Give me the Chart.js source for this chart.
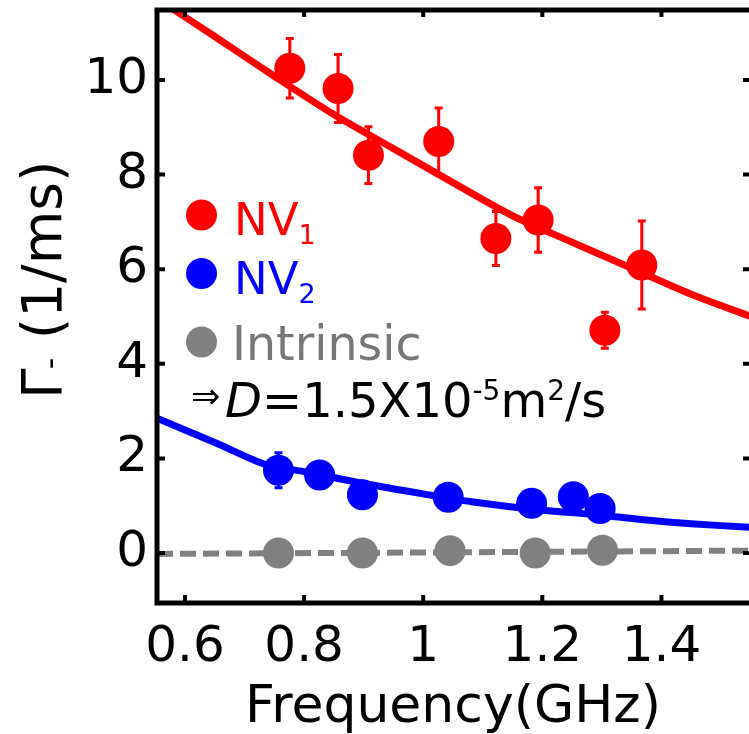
<!DOCTYPE html>
<html><head><meta charset="utf-8">
<script src="https://cdn.jsdelivr.net/npm/chart.js@4/dist/chart.umd.min.js"></script>
<style>html,body{margin:0;padding:0;background:#fff;}canvas{display:block;}</style>
</head><body>
<canvas id="c" width="749" height="734"></canvas>
<script>
// ---- data ----
const xTicks = [0.6, 0.8, 1.0, 1.2, 1.4];
const xTickLabels = ['0.6', '0.8', '1', '1.2', '1.4'];
const yTicks = [0, 2, 4, 6, 8, 10];

const nv1Freq = [0.776, 0.857, 0.908, 1.026, 1.122, 1.193, 1.305, 1.367];
const nv1Rate = [10.25, 9.82, 8.41, 8.70, 6.65, 7.04, 4.71, 6.09];
const nv1Err  = [0.63, 0.72, 0.60, 0.71, 0.57, 0.68, 0.38, 0.93];

const nv2Freq = [0.757, 0.826, 0.898, 1.042, 1.182, 1.252, 1.297];
const nv2Rate = [1.75, 1.65, 1.23, 1.18, 1.05, 1.19, 0.94];
const nv2Err  = [0.37, 0.15, 0.15, 0.15, 0.15, 0.15, 0.15];

const intFreq = [0.757, 0.898, 1.045, 1.188, 1.301];
const intRate = [0.00, 0.00, 0.05, 0.00, 0.06];

const nv1FitFreq = [0.57, 0.65, 0.75, 0.85, 0.95, 1.05, 1.15, 1.25, 1.35, 1.45, 1.55];
const nv1FitRate = [11.58, 10.92, 10.08, 9.27, 8.55, 7.83, 7.13, 6.57, 6.02, 5.47, 5.00];

const nv2FitFreq = [0.553, 0.653, 0.737, 0.80, 0.90, 1.00, 1.084, 1.196, 1.30, 1.364, 1.45, 1.55];
const nv2FitRate = [2.85, 2.32, 1.86, 1.72, 1.47, 1.25, 1.08, 0.91, 0.80, 0.71, 0.62, 0.54];

const intFitFreq = [0.553, 1.55];
const intFitRate = [-0.02, 0.05];

const seriesLabels = ['NV1', 'NV2', 'Intrinsic'];
const seriesColors = ['#ff0000', '#0000ff', '#808080'];

// ---- helpers ----
const FAM = "'DejaVu Sans', Verdana, sans-serif";
const pts = (xs, ys) => xs.map((x, i) => ({x: x, y: ys[i]}));

const errBars = [
  {freq: nv1Freq, rate: nv1Rate, err: nv1Err, color: seriesColors[0]},
  {freq: nv2Freq, rate: nv2Rate, err: nv2Err, color: seriesColors[1]}
];

const decorPlugin = {
  id: 'decor',
  beforeDatasetsDraw(chart) {
    const ctx = chart.ctx, xs = chart.scales.x, ys = chart.scales.y;
    ctx.save();
    errBars.forEach(s => {
      ctx.strokeStyle = s.color; ctx.lineWidth = 3;
      s.freq.forEach((f, i) => {
        const px = xs.getPixelForValue(f);
        const t = ys.getPixelForValue(s.rate[i] + s.err[i]);
        const b = ys.getPixelForValue(s.rate[i] - s.err[i]);
        ctx.beginPath();
        ctx.moveTo(px, t); ctx.lineTo(px, b);
        ctx.moveTo(px - 4, t); ctx.lineTo(px + 4, t);
        ctx.moveTo(px - 4, b); ctx.lineTo(px + 4, b);
        ctx.stroke();
      });
    });
    ctx.restore();
  },
  afterDraw(chart) {
    const ctx = chart.ctx, xs = chart.scales.x, ys = chart.scales.y, a = chart.chartArea;
    ctx.save();
    // frame
    ctx.strokeStyle = '#000'; ctx.lineWidth = 5; ctx.lineCap = 'square';
    ctx.beginPath();
    ctx.moveTo(a.right, a.top); ctx.lineTo(a.left, a.top);
    ctx.lineTo(a.left, a.bottom); ctx.lineTo(a.right, a.bottom);
    ctx.stroke();
    // inward ticks
    ctx.lineWidth = 4; ctx.lineCap = 'butt';
    ctx.beginPath();
    xTicks.forEach(v => {
      const p = xs.getPixelForValue(v);
      ctx.moveTo(p, a.bottom); ctx.lineTo(p, a.bottom - 8);
      ctx.moveTo(p, a.top); ctx.lineTo(p, a.top + 7);
    });
    yTicks.forEach(v => {
      const p = ys.getPixelForValue(v);
      ctx.moveTo(a.left, p); ctx.lineTo(a.left + 8, p);
      ctx.moveTo(a.right, p); ctx.lineTo(a.right - 6, p);
    });
    ctx.stroke();

    // y axis title
    ctx.fillStyle = '#000';
    ctx.translate(61, 399);
    ctx.rotate(-Math.PI / 2);
    ctx.textAlign = 'left'; ctx.textBaseline = 'alphabetic';
    let x = 0;
    ctx.font = `55px ${FAM}`; ctx.fillText('Γ', x, 0); x += ctx.measureText('Γ').width;
    ctx.font = `32px ${FAM}`; ctx.fillText('-', x - 1, 0); x += ctx.measureText('-').width;
    ctx.font = `55px ${FAM}`; ctx.fillText(' (1/ms)', x, 0);
    ctx.setTransform(1, 0, 0, 1, 0, 0);

    // legend
    const legY = [215, 273.5, 342];
    const txtY = [235, 293.5, 360];
    seriesLabels.forEach((lab, i) => {
      ctx.fillStyle = seriesColors[i];
      ctx.beginPath(); ctx.arc(201.5, legY[i], 15.5, 0, Math.PI * 2); ctx.fill();
      const m = lab.match(/^(.*?)(\d+)$/);
      ctx.textAlign = 'left'; ctx.textBaseline = 'alphabetic';
      if (m) {
        ctx.font = `45px ${FAM}`; ctx.fillText(m[1], 234, txtY[i]);
        const w = ctx.measureText(m[1]).width;
        ctx.font = `27px ${FAM}`; ctx.fillText(m[2], 234 + w, txtY[i] + 9);
      } else {
        ctx.fillStyle = '#777777';
        ctx.font = `47.5px ${FAM}`; ctx.fillText(lab, 232, txtY[i]);
      }
    });

    // annotation  ⇒ D = 1.5X10^-5 m^2/s
    ctx.fillStyle = '#000';
    const base = 416.5;
    ctx.font = `35px ${FAM}`; ctx.fillText('⇒', 191, base - 9);
    let ax = 225;
    ctx.font = `italic 48px ${FAM}`; ctx.fillText('D', ax, base); ax += ctx.measureText('D').width;
    ctx.font = `48px ${FAM}`; ctx.fillText('=1.5X10', ax, base); ax += ctx.measureText('=1.5X10').width;
    ctx.font = `28px ${FAM}`; ctx.fillText('-5', ax, base - 17); ax += ctx.measureText('-5').width;
    ctx.font = `48px ${FAM}`; ctx.fillText('m', ax, base); ax += ctx.measureText('m').width;
    ctx.font = `28px ${FAM}`; ctx.fillText('2', ax, base - 17); ax += ctx.measureText('2').width;
    ctx.font = `48px ${FAM}`; ctx.fillText('/s', ax, base);
    ctx.restore();
  }
};

new Chart(document.getElementById('c'), {
  type: 'scatter',
  data: {
    datasets: [
      {label: 'NV1 fit', data: pts(nv1FitFreq, nv1FitRate), showLine: true, borderColor: seriesColors[0],
       borderWidth: 7, pointRadius: 0, tension: 0.3, order: 3},
      {label: 'NV2 fit', data: pts(nv2FitFreq, nv2FitRate), showLine: true, borderColor: seriesColors[1],
       borderWidth: 7, pointRadius: 0, tension: 0.3, order: 3},
      {label: seriesLabels[0], data: pts(nv1Freq, nv1Rate), backgroundColor: seriesColors[0],
       borderWidth: 0, pointRadius: 15.5, order: 1},
      {label: seriesLabels[1], data: pts(nv2Freq, nv2Rate), backgroundColor: seriesColors[1],
       borderWidth: 0, pointRadius: 15.5, order: 1},
      {label: seriesLabels[2], data: pts(intFreq, intRate), backgroundColor: seriesColors[2],
       borderWidth: 0, pointRadius: 15.5, order: 2},
      {label: 'Intrinsic fit', data: pts(intFitFreq, intFitRate), showLine: true, borderColor: seriesColors[2],
       borderWidth: 6, borderDash: [16, 7], pointRadius: 0, order: 0}
    ]
  },
  options: {
    responsive: false,
    animation: false,
    devicePixelRatio: 1,
    layout: {autoPadding: false, padding: {top: 10, right: 0, left: 0, bottom: 0}},
    plugins: {legend: {display: false}, tooltip: {enabled: false}},
    scales: {
      x: {
        type: 'linear', min: 0.553, max: 1.547,
        grid: {display: false, drawTicks: false}, border: {display: false},
        afterBuildTicks: s => { s.ticks = xTicks.map(v => ({value: v})); },
        ticks: {
          font: {family: FAM, size: 50}, color: '#000', padding: 15, maxRotation: 0, autoSkip: false,
          callback: (v) => { const i = xTicks.findIndex(t => Math.abs(t - v) < 1e-9); return i >= 0 ? xTickLabels[i] : ''; }
        },
        title: {display: true, text: 'Frequency(GHz)', color: '#000',
                font: {family: FAM, size: 52, lineHeight: 1}, padding: 0},
        afterFit: s => { s.height = 131; s.paddingLeft = 0; s.paddingRight = 0; }
      },
      y: {
        type: 'linear', min: -1.057, max: 11.48,
        grid: {display: false, drawTicks: false}, border: {display: false},
        afterBuildTicks: s => { s.ticks = yTicks.map(v => ({value: v})); },
        ticks: {font: {family: FAM, size: 50}, color: '#000', padding: 9, autoSkip: false},
        afterFit: s => { s.width = 157; s.paddingTop = 0; s.paddingBottom = 0; }
      }
    }
  },
  plugins: [decorPlugin]
});
</script>
</body></html>
